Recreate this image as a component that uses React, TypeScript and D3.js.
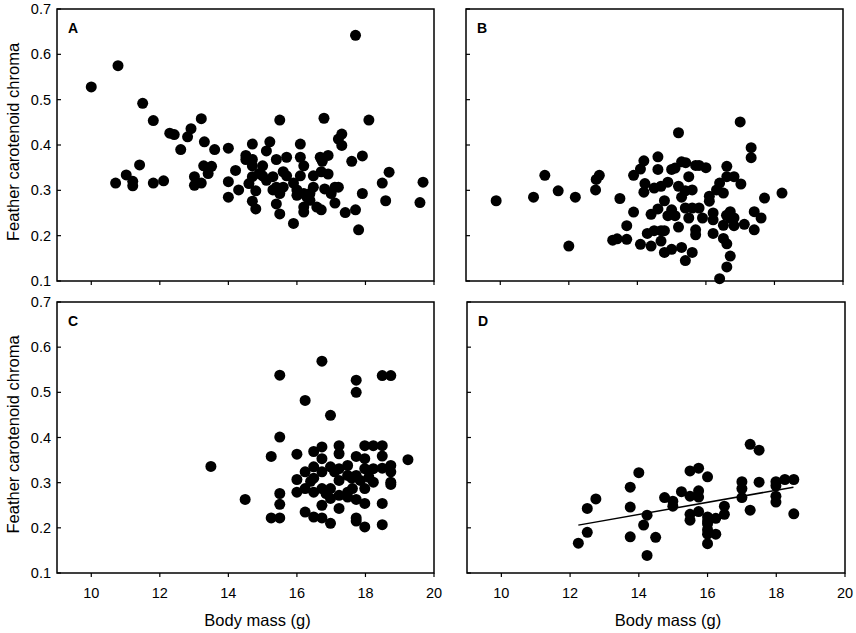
import React from 'react';
import * as d3 from 'd3';

// [body mass (g), feather carotenoid chroma]
const pointsA: [number, number][] = [
  [10.0, 0.528], [10.78, 0.575], [11.5, 0.492], [11.81, 0.454], [10.71, 0.316],
  [11.02, 0.334], [11.21, 0.32], [11.21, 0.31], [11.41, 0.356], [11.81, 0.316],
  [12.11, 0.321], [12.29, 0.426], [12.42, 0.423], [12.61, 0.39], [12.81, 0.418],
  [12.91, 0.436], [13.21, 0.458], [13.3, 0.407], [13.6, 0.39], [13.01, 0.33],
  [13.01, 0.311], [13.21, 0.316], [13.28, 0.354], [13.41, 0.337], [13.51, 0.353],
  [14.0, 0.393], [14.21, 0.344], [14.0, 0.319], [14.0, 0.285], [14.3, 0.301],
  [14.7, 0.402], [14.51, 0.377], [14.51, 0.368], [14.7, 0.368], [14.7, 0.354],
  [14.6, 0.315], [14.7, 0.33], [14.8, 0.299], [14.7, 0.276], [14.8, 0.259],
  [15.0, 0.354], [15.11, 0.387], [15.21, 0.407], [15.0, 0.332], [15.11, 0.322],
  [15.3, 0.33], [15.3, 0.301], [15.4, 0.368], [15.5, 0.455], [15.4, 0.307],
  [15.5, 0.293], [15.6, 0.307], [15.5, 0.248], [15.6, 0.341], [15.7, 0.373],
  [15.7, 0.332], [15.9, 0.316], [15.9, 0.227], [16.1, 0.402], [16.1, 0.373],
  [16.1, 0.332], [16.0, 0.301], [16.0, 0.289], [16.2, 0.354], [16.2, 0.293],
  [16.2, 0.263], [16.2, 0.252], [16.38, 0.293], [16.48, 0.332], [16.48, 0.307],
  [16.58, 0.263], [16.71, 0.257], [16.79, 0.459], [16.68, 0.373], [16.71, 0.341],
  [16.91, 0.377], [16.91, 0.336], [16.81, 0.303], [17.0, 0.293], [17.11, 0.307],
  [17.11, 0.272], [17.21, 0.413], [17.31, 0.424], [17.31, 0.399], [17.21, 0.307],
  [17.41, 0.251], [17.6, 0.364], [17.71, 0.642], [17.71, 0.257], [17.8, 0.213],
  [17.91, 0.376], [17.91, 0.293], [18.1, 0.455], [18.49, 0.316], [18.69, 0.34],
  [18.59, 0.277], [19.59, 0.273], [19.68, 0.318], [16.74, 0.364], [16.29, 0.285],
  [16.38, 0.278], [14.9, 0.337], [15.4, 0.27],
];

const pointsB: [number, number][] = [
  [9.88, 0.277], [10.97, 0.285], [11.3, 0.333], [11.69, 0.299], [12.19, 0.285],
  [12.0, 0.177], [12.78, 0.301], [12.8, 0.324], [12.89, 0.333], [13.49, 0.282],
  [13.28, 0.19], [13.41, 0.193], [13.69, 0.192], [13.69, 0.222], [13.89, 0.252],
  [13.89, 0.333], [14.09, 0.347], [14.19, 0.365], [14.22, 0.315], [14.19, 0.296],
  [14.09, 0.181], [14.29, 0.205], [14.4, 0.177], [14.4, 0.247], [14.6, 0.374],
  [14.6, 0.346], [14.49, 0.305], [14.69, 0.309], [14.6, 0.259], [14.49, 0.211],
  [14.69, 0.211], [14.79, 0.211], [14.69, 0.188], [14.79, 0.163], [14.79, 0.277],
  [15.0, 0.17], [14.89, 0.318], [14.89, 0.244], [15.0, 0.346], [15.1, 0.349],
  [15.1, 0.244], [15.2, 0.427], [15.2, 0.309], [15.2, 0.219], [15.29, 0.363],
  [15.29, 0.285], [15.29, 0.174], [15.4, 0.145], [15.41, 0.361], [15.5, 0.33],
  [15.4, 0.299], [15.4, 0.261], [15.5, 0.239], [15.6, 0.301], [15.6, 0.261],
  [15.6, 0.163], [15.7, 0.355], [15.7, 0.202], [15.7, 0.213], [15.8, 0.355],
  [15.8, 0.261], [15.9, 0.239], [16.0, 0.35], [16.1, 0.287], [16.1, 0.276],
  [16.21, 0.25], [16.21, 0.205], [16.21, 0.235], [16.31, 0.301], [16.4, 0.316],
  [16.4, 0.105], [16.51, 0.294], [16.51, 0.223], [16.51, 0.194], [16.61, 0.353],
  [16.61, 0.33], [16.61, 0.182], [16.61, 0.131], [16.71, 0.155], [16.71, 0.253],
  [16.71, 0.239], [16.82, 0.33], [16.82, 0.239], [16.82, 0.222], [17.0, 0.451],
  [17.02, 0.314], [17.12, 0.225], [17.32, 0.394], [17.32, 0.372], [17.41, 0.253],
  [17.41, 0.213], [17.61, 0.239], [17.71, 0.283], [18.22, 0.294], [15.0, 0.257],
  [16.6, 0.245],
];

const pointsC: [number, number][] = [
  [13.49, 0.336], [14.49, 0.263], [15.25, 0.358], [15.5, 0.538], [15.5, 0.401],
  [15.5, 0.276], [15.5, 0.252], [15.25, 0.222], [15.5, 0.222], [16.0, 0.363],
  [16.0, 0.307], [16.0, 0.279], [16.24, 0.482], [16.24, 0.324], [16.24, 0.235],
  [16.24, 0.287], [16.49, 0.369], [16.49, 0.335], [16.49, 0.31], [16.49, 0.279],
  [16.49, 0.224], [16.73, 0.569], [16.73, 0.379], [16.73, 0.353], [16.73, 0.324],
  [16.73, 0.287], [16.73, 0.25], [16.73, 0.222], [16.98, 0.449], [16.98, 0.335],
  [16.98, 0.287], [16.98, 0.265], [16.98, 0.21], [17.23, 0.382], [17.23, 0.364],
  [17.23, 0.331], [17.23, 0.305], [17.23, 0.272], [17.23, 0.243], [17.48, 0.338],
  [17.48, 0.316], [17.48, 0.279], [17.48, 0.268], [17.73, 0.527], [17.73, 0.5],
  [17.73, 0.358], [17.73, 0.316], [17.73, 0.263], [17.73, 0.222], [17.73, 0.215],
  [17.98, 0.382], [17.98, 0.353], [17.98, 0.331], [17.98, 0.287], [17.98, 0.254],
  [17.98, 0.202], [18.23, 0.382], [18.23, 0.331], [18.23, 0.301], [18.49, 0.537],
  [18.49, 0.382], [18.49, 0.359], [18.49, 0.332], [18.49, 0.254], [18.49, 0.207],
  [18.74, 0.537], [18.74, 0.338], [18.74, 0.324], [18.74, 0.301], [18.74, 0.296],
  [19.24, 0.351], [17.6, 0.31], [17.1, 0.324], [16.4, 0.303], [17.85, 0.305],
  [18.1, 0.312], [16.85, 0.276], [17.62, 0.287],
];

const pointsD: [number, number][] = [
  [12.24, 0.166], [12.5, 0.243], [12.5, 0.19], [12.75, 0.264], [13.75, 0.29],
  [13.75, 0.246], [13.75, 0.18], [14.0, 0.322], [14.14, 0.206], [14.24, 0.228],
  [14.24, 0.139], [14.49, 0.179], [14.75, 0.267], [14.99, 0.259], [14.99, 0.248],
  [15.24, 0.28], [15.49, 0.326], [15.49, 0.27], [15.49, 0.23], [15.49, 0.217],
  [15.74, 0.332], [15.74, 0.282], [15.74, 0.268], [15.74, 0.236], [16.0, 0.313],
  [16.0, 0.224], [16.0, 0.209], [16.0, 0.196], [16.0, 0.186], [16.0, 0.165],
  [16.24, 0.221], [16.24, 0.186], [16.49, 0.248], [16.49, 0.23], [17.0, 0.302],
  [17.0, 0.287], [17.0, 0.267], [17.24, 0.385], [17.24, 0.239], [17.5, 0.372],
  [17.5, 0.301], [17.99, 0.302], [17.99, 0.293], [17.99, 0.27], [17.99, 0.257],
  [18.25, 0.307], [18.51, 0.307], [18.51, 0.231], [16.0, 0.215],
];

// fitted line in panel D (endpoints)
const trendD: [number, number][] = [[12.24, 0.206], [18.5, 0.29]];

const xTicks = [10, 12, 14, 16, 18, 20];
const yTicks = [0.1, 0.2, 0.3, 0.4, 0.5, 0.6, 0.7];

const font = '"Liberation Sans", Arial, sans-serif';

interface PanelProps {
  label: string;
  points: [number, number][];
  left: number;
  right: number;
  top: number;
  bottom: number;
  yLabels?: boolean;
  xLabels?: boolean;
  trend?: [number, number][];
}

const Panel: React.FC<PanelProps> = ({ label, points, left, right, top, bottom, yLabels, xLabels, trend }) => {
  const x = d3.scaleLinear().domain([9, 20]).range([left, right]);
  const y = d3.scaleLinear().domain([0.1, 0.7]).range([bottom, top]);
  const line = d3.line<[number, number]>().x((d) => x(d[0])).y((d) => y(d[1]));

  return (
    <g>
      {points.map((d, i) => (
        <circle key={i} cx={x(d[0])} cy={y(d[1])} r={5.5} fill="#000" />
      ))}
      {trend && <path d={line(trend) || ''} fill="none" stroke="#000" strokeWidth={1.5} />}
      <rect x={left} y={top} width={right - left} height={bottom - top} fill="none" stroke="#000" strokeWidth={1.5} />
      {xTicks.map((t) => (
        <line key={t} x1={x(t)} x2={x(t)} y1={bottom} y2={bottom + 4} stroke="#000" strokeWidth={1.2} />
      ))}
      {yTicks.map((t) => (
        <line key={t} x1={left} x2={left + 4} y1={y(t)} y2={y(t)} stroke="#000" strokeWidth={1.2} />
      ))}
      {yLabels &&
        yTicks.map((t) => (
          <text key={t} x={left - 6} y={y(t) + 5} textAnchor="end" fontSize={14.5} fontFamily={font}>
            {t.toFixed(1)}
          </text>
        ))}
      {xLabels &&
        xTicks.map((t) => (
          <text key={t} x={x(t)} y={bottom + 25} textAnchor="middle" fontSize={14.5} fontFamily={font}>
            {t}
          </text>
        ))}
      <text x={left + 11} y={top + 23.5} fontSize={14} fontWeight="bold" fontFamily={font}>
        {label}
      </text>
      {yLabels && (
        <text
          transform={`translate(19, ${(top + bottom) / 2 - 3}) rotate(-90)`}
          textAnchor="middle"
          fontSize={16.5}
          fontFamily={font}
        >
          Feather carotenoid chroma
        </text>
      )}
      {xLabels && (
        <text x={(left + right) / 2 + 12} y={626} textAnchor="middle" fontSize={16.5} fontFamily={font}>
          Body mass (g)
        </text>
      )}
    </g>
  );
};

export default function App() {
  return (
    <svg width={856} height={633} style={{ position: 'absolute', left: 0, top: 0, background: '#fff' }}>
      <Panel label="A" points={pointsA} left={57} right={434} top={9} bottom={281} yLabels />
      <Panel label="B" points={pointsB} left={466} right={843} top={9} bottom={281} />
      <Panel label="C" points={pointsC} left={57} right={434} top={302} bottom={573} yLabels xLabels />
      <Panel label="D" points={pointsD} left={467} right={845} top={302} bottom={573} xLabels trend={trendD} />
    </svg>
  );
}
